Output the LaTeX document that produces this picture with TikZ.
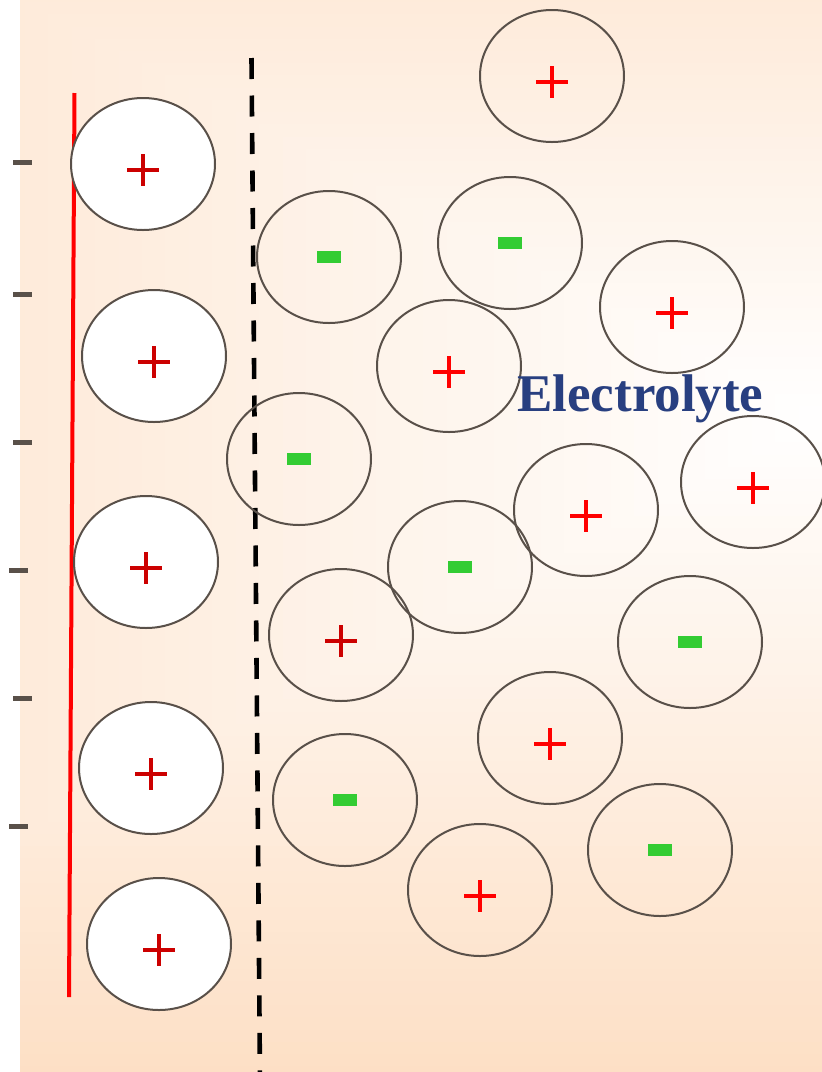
\documentclass[tikz,border=0pt]{standalone}
\usepackage{fontspec}
\setmainfont{Liberation Serif}
\usetikzlibrary{shapes.geometric}
\definecolor{peach}{HTML}{FDDCBF}
\definecolor{ionedge}{HTML}{595049}
\definecolor{darkplus}{HTML}{CC0000}
\definecolor{brightplus}{HTML}{FF0000}
\definecolor{minusgreen}{HTML}{33CC33}
\definecolor{navy}{HTML}{283F80}
\tikzset{
  ion/.style={ellipse, draw=ionedge, line width=2pt, minimum width=144pt, minimum height=132pt, inner sep=0pt},
  wallion/.style={ion, fill=white},
  plusline/.style={line width=4.6pt},
  minusbar/.style={fill=minusgreen},
  tick/.style={draw=ionedge, line width=5pt},
  layer/.style={draw=black, line width=4.6pt, dash pattern=on 21pt off 16.5pt},
  electrode/.style={draw=red, line width=4pt}
}
\begin{document}
\begin{tikzpicture}[x=1pt,y=-1pt]
\useasboundingbox (0,0) rectangle (822,1072);
\fill[white] (0,0) rectangle (822,1072);
\begin{scope}
  \clip (20,0) rectangle (822,1072);
  \foreach \k in {0,...,60} {
    \pgfmathsetmacro\t{1-\k/60}
    \pgfmathsetmacro\p{100*\t}
    \fill[peach!\p!white] (822-\t*1407,418-\t*734) rectangle (822+\t*1407,418+\t*734);
  }
\end{scope}
% electrode charges
\foreach \y/\x in {162/13, 294/13, 442/13, 570/9, 698/13, 826/9}
  \draw[tick] (\x,\y) -- ++(19,0);
% electrode surface
\coordinate (rtop) at (74.5,93);
\coordinate (rbot) at (69,997);
\draw[electrode] (rtop) -- (rbot);
% outer Helmholtz plane
\coordinate (dtop) at (251.5,58);
\coordinate (dbot) at (260,1080);
\draw[layer] (dtop) -- (dbot);
% adsorbed cations
\foreach \x/\y [count=\i] in {143/164, 154/356, 146/562, 151/768, 159/944} {
  \node[wallion] (w\i) at (\x,\y) {};
  \draw[plusline, darkplus] (\x-16,\y+6) -- (\x+16,\y+6) (\x,\y-10) -- (\x,\y+22);
}
% electrolyte cations
\foreach \x/\y/\c [count=\i] in {552/76/brightplus, 672/307/brightplus, 449/366/brightplus, 586/510/brightplus, 753/482/brightplus, 341/635/darkplus, 550/738/brightplus, 480/890/brightplus} {
  \node[ion] (p\i) at (\x,\y) {};
  \draw[plusline, \c] (\x-16,\y+6) -- (\x+16,\y+6) (\x,\y-10) -- (\x,\y+22);
}
% electrolyte anions
\foreach \x/\y [count=\i] in {329/257, 510/243, 299/459, 460/567, 690/642, 345/800, 660/850} {
  \node[ion] (m\i) at (\x,\y) {};
  \fill[minusbar] (\x-12,\y-6) rectangle (\x+12,\y+6);
}
\node[anchor=base west, text=navy, font=\bfseries\fontsize{53}{60}\selectfont, inner sep=0pt] (label) at (517,411) {Electrolyte};
\end{tikzpicture}
\end{document}
